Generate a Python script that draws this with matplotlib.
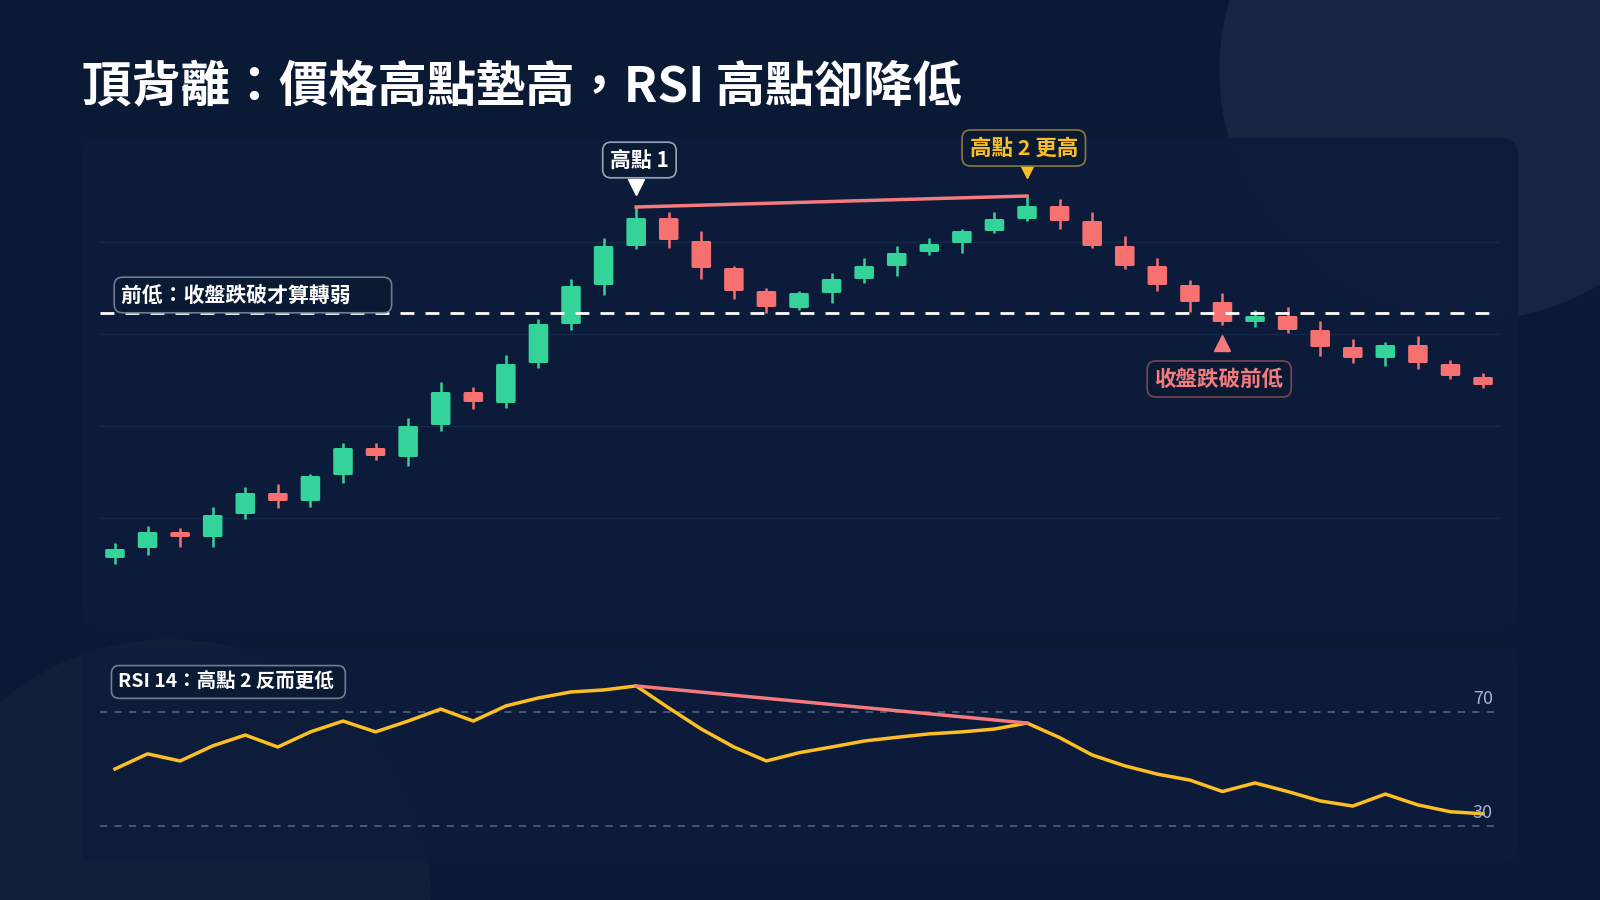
import matplotlib
matplotlib.use("Agg")
import matplotlib.pyplot as plt
from matplotlib.patches import FancyBboxPatch, Circle
import numpy as np

plt.rcParams["font.family"] = ["Noto Sans CJK TC", "DejaVu Sans"]

# ---- data (price units are arbitrary) ----
opens  = [42, 52, 68, 63, 86, 107, 99, 125, 152, 143, 175, 208, 197, 237, 276, 315, 354, 382, 359, 332, 309,
          292, 307, 321, 334, 348, 357, 369, 381, 394, 379, 354, 334, 315, 298, 278, 284, 270, 253, 242, 255, 236, 223]
highs  = [57, 74, 72, 93, 113, 116, 126, 157, 157, 182, 218, 213, 245, 281, 321, 362, 393, 388, 369, 334, 312,
          309, 327, 342, 354, 362, 371, 388, 404, 401, 388, 364, 342, 320, 307, 290, 293, 279, 261, 258, 264, 240, 227]
lows   = [36, 45, 53, 53, 81, 92, 93, 117, 140, 134, 169, 191, 192, 232, 270, 305, 351, 352, 321, 301, 287,
          290, 297, 317, 324, 345, 347, 367, 379, 371, 352, 331, 309, 288, 275, 273, 267, 244, 237, 234, 231, 221, 212]
closes = [51, 68, 63, 85, 107, 99, 124, 152, 144, 174, 208, 198, 236, 276, 314, 354, 382, 360, 332, 309, 293,
          307, 321, 334, 347, 356, 369, 381, 394, 379, 354, 334, 315, 298, 278, 284, 270, 253, 242, 255, 237, 224, 215]
rsi = [50.0, 55.3, 52.8, 58.1, 61.9, 57.7, 63.0, 66.8, 63.0, 66.8, 71.0, 66.8, 72.1, 74.9, 77.0, 77.7, 79.1,
       71.4, 64.0, 57.7, 52.8, 55.7, 57.7, 59.8, 61.1, 62.3, 63.0, 64.0, 66.1, 61.0, 54.9, 51.1, 48.2, 46.1,
       42.1, 45.1, 42.1, 38.8, 37.0, 41.2, 37.4, 35.0, 34.3]
prev_low = 287
peak1, peak2 = 16, 28
break_idx = 34
rsi_levels = [70, 30]

BG = "#0a1a35"
PANEL = "#0c1c3a"
UP, DOWN = "#34d399", "#f87171"
GOLD, PINK = "#fbbf24", "#f47a7e"
W, H = 1600, 900

fig = plt.figure(figsize=(16, 9), dpi=100, facecolor=BG)


def frect(x0, y0, x1, y1):
    # pixel box (top-left origin) -> figure fraction rect
    return [x0 / W, 1 - y1 / H, (x1 - x0) / W, (y1 - y0) / H]


# background decoration
bg = fig.add_axes([0, 0, 1, 1]); bg.set_xlim(0, W); bg.set_ylim(H, 0); bg.axis("off")
bg.add_patch(Circle((1470, 70), 250, color="#142640", zorder=0))
bg.add_patch(Circle((170, 900), 260, color="#0f2038", zorder=0))
for (x0, y0, x1, y1) in [(82, 138, 1518, 625), (82, 648, 1518, 863)]:
    bg.add_patch(FancyBboxPatch((x0, y0), x1 - x0, y1 - y0, boxstyle="round,pad=0,rounding_size=16",
                                fc=PANEL, ec="none", alpha=0.92, zorder=1))
bg.text(82, 87, "頂背離：價格高點墊高，RSI 高點卻降低", color="white", fontsize=35.5,
        fontweight="bold", va="center", ha="left")

x = np.arange(len(opens))
xlim = (-0.46, 42.52)

# ---- price panel ----
ax = fig.add_axes(frect(100, 150, 1500, 610))
ax.set_facecolor("none")
ax.set_xlim(*xlim); ax.set_ylim(-10, 450)
for g in [82, 174, 266, 358]:
    ax.axhline(g, color="#16284a", lw=1, zorder=0)
for i in x:
    c = UP if closes[i] >= opens[i] else DOWN
    ax.vlines(i, lows[i], highs[i], color=c, lw=1.8, zorder=2)
    lo, hi = sorted((opens[i], closes[i]))
    ax.add_patch(FancyBboxPatch((i - 0.3, lo), 0.6, max(hi - lo, 2), boxstyle="round,pad=0,rounding_size=0.06",
                                fc=c, ec="none", zorder=3, mutation_aspect=20))
ax.axhline(prev_low, color="white", lw=2, ls=(0, (5, 4)), zorder=4)
ax.plot([peak1, peak2], [highs[peak1], highs[peak2]], color=PINK, lw=2.5, zorder=4)
ax.plot(peak1, highs[peak1] + 20, marker="v", color="white", ms=11, zorder=5)
ax.plot(peak2, highs[peak2] + 26, marker="v", color=GOLD, ms=11, zorder=5)
ax.plot(break_idx, lows[break_idx] - 18, marker="^", color=PINK, ms=11, zorder=5)

box = dict(boxstyle="round,pad=0.35,rounding_size=0.4", fc="#0b1a33", lw=1.2)
ax.text(peak1 + 0.1, highs[peak1] + 47, "高點 1", color="white", fontsize=15, fontweight="bold",
        ha="center", va="center", bbox={**box, "ec": "#9aa6b8"}, zorder=6)
ax.text(peak2 - 0.1, highs[peak2] + 48, "高點 2 更高", color=GOLD, fontsize=15.5, fontweight="bold",
        ha="center", va="center", bbox={**box, "ec": "#8a7440"}, zorder=6)
ax.text(break_idx - 0.1, lows[break_idx] - 54, "收盤跌破前低", color=PINK, fontsize=15.5, fontweight="bold",
        ha="center", va="center", bbox={**box, "ec": "#7a4652"}, zorder=6)
ax.text(0.2, prev_low + 18, "前低：收盤跌破才算轉弱       ", color="white", fontsize=15,
        fontweight="bold", ha="left", va="center", bbox={**box, "ec": "#6f7d94"}, zorder=6)
ax.axis("off")

# ---- RSI panel ----
rx = fig.add_axes(frect(100, 660, 1500, 850))
rx.set_facecolor("none")
rx.set_xlim(*xlim); rx.set_ylim(21.6, 88.2)
for lv in rsi_levels:
    rx.axhline(lv, color="#4b5d7a", lw=1.3, ls=(0, (4, 4)), zorder=1)
    rx.text(42.3, lv + 1.5, str(lv), color="#9fb4d0", fontsize=13, ha="right", va="bottom", zorder=5)
rx.plot(x, rsi, color=GOLD, lw=2.5, zorder=3)
rx.plot([peak1, peak2], [rsi[peak1], rsi[peak2]], color=PINK, lw=2.5, zorder=4)
rx.text(0.1, 80.5, "RSI 14：高點 2 反而更低 ", color="white", fontsize=14, fontweight="bold",
        ha="left", va="center", bbox={**box, "ec": "#6f7d94"}, zorder=6)
rx.axis("off")

fig.savefig("out.png", dpi=100, facecolor=BG)
